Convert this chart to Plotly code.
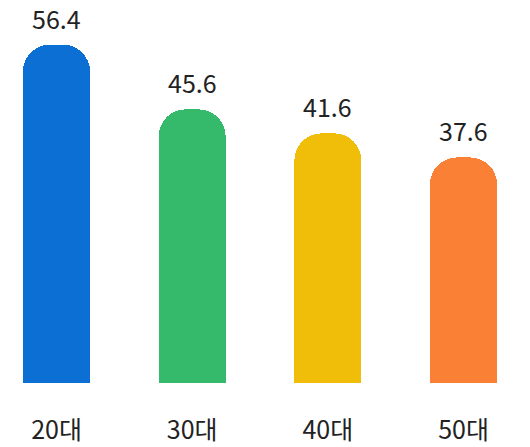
import plotly.graph_objects as go

categories = ["20대", "30대", "40대", "50대"]
values = [56.4, 45.6, 41.6, 37.6]
value_labels = ["56.4", "45.6", "41.6", "37.6"]
colors = ["#0b6fd4", "#35b96b", "#f0be08", "#fa8035"]

FONT = "Noto Sans CJK KR"

fig = go.Figure()
fig.add_trace(go.Bar(
    x=list(range(len(categories))),
    y=values,
    width=0.494,
    marker=dict(color=colors, line=dict(width=0), cornerradius=27),
    hoverinfo="skip",
))

for i, (v, t) in enumerate(zip(values, value_labels)):
    fig.add_annotation(
        x=i, y=v, text=t, showarrow=False,
        yanchor="middle", yshift=27,
        font=dict(family=FONT, size=25, color="#222222"),
    )

fig.update_layout(
    width=530, height=447,
    margin=dict(l=0, r=0, t=0, b=42, autoexpand=False),
    paper_bgcolor="white", plot_bgcolor="white",
    showlegend=False,
    bargap=0,
    xaxis=dict(
        range=[-0.4165, 3.490],
        tickmode="array",
        tickvals=list(range(len(categories))),
        ticktext=categories,
        tickfont=dict(family=FONT, size=25, color="#222222"),
        ticks="outside", ticklen=3, tickcolor="rgba(0,0,0,0)",
        showgrid=False, zeroline=False, showline=False,
        fixedrange=True,
    ),
    yaxis=dict(
        range=[-3.667, 63.83],
        visible=False, showgrid=False, zeroline=False,
        fixedrange=True,
    ),
)

fig.write_html(
    "out.html",
    config={"displayModeBar": False, "staticPlot": True},
    post_script="document.body.style.margin='0';document.body.style.overflow='hidden';",
)
